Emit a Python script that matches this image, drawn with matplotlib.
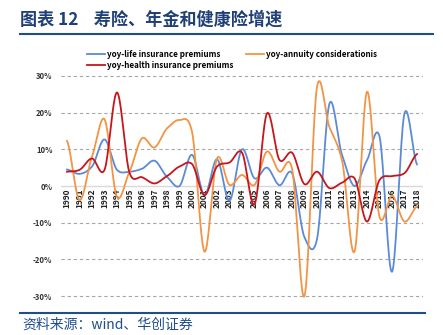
import numpy as np
import matplotlib
matplotlib.use("Agg")
import matplotlib.pyplot as plt
from matplotlib.lines import Line2D

plt.rcParams['font.family'] = ['Noto Sans CJK SC', 'DejaVu Sans']

years = list(range(1990, 2019))
life = [4.5, 3.3, 5.3, 12.7, 4.4, 3.9, 4.7, 6.9, 2.5, 0.0,
        8.5, -2.5, 7.3, -4.0, 10.0, 2.1, 5.0, 0.2, 3.5, -14.0,
        -14.5, 22.5, 8.5, 0.0, 7.0, 13.5, -23.4, 19.8, 5.9]
annuity = [12.3, -3.8, 8.0, 18.2, -3.0, 3.9, 13.0, 10.5, 15.7, 18.0,
           14.8, -17.9, 7.5, 0.3, 3.0, 0.3, 9.4, 3.9, 4.8, -30.0,
           27.0, 16.0, 7.0, -17.9, 25.7, -8.4, -2.6, -9.7, -5.6]
health = [3.9, 4.4, 7.5, 4.4, 25.5, 3.6, 2.4, 0.7, 2.7, 5.3,
          6.0, -2.5, 5.3, 6.4, 9.1, -5.0, 19.8, 7.1, 9.1, 0.5,
          3.9, -0.6, 0.9, 2.1, -9.7, 1.6, 2.7, 3.5, 8.7]

names = ['yoy-life insurance premiums', 'yoy-annuity considerationis',
         'yoy-health insurance premiums']
colors = ['#5B8BD6', '#F39445', '#C4161C']


def smooth(y, n=20, k=0.42):
    # cardinal spline through the points, close to excel's smoothed line
    y = np.asarray(y, float)
    p = np.concatenate([[y[0]], y, [y[-1]]])
    m = k * (p[2:] - p[:-2])
    xs, ys = [], []
    t = np.linspace(0, 1, n, endpoint=False)
    h00 = 2 * t ** 3 - 3 * t ** 2 + 1
    h10 = t ** 3 - 2 * t ** 2 + t
    h01 = -2 * t ** 3 + 3 * t ** 2
    h11 = t ** 3 - t ** 2
    for i in range(len(y) - 1):
        xs.append(i + t)
        ys.append(h00 * y[i] + h10 * m[i] + h01 * y[i + 1] + h11 * m[i + 1])
    xs.append([len(y) - 1])
    ys.append([y[-1]])
    return np.concatenate(xs), np.concatenate(ys)


W, H = 443, 335
fig = plt.figure(figsize=(W / 100, H / 100), dpi=100)

ax = fig.add_axes([60.75 / W, 1 - 297.5 / H, 362.5 / W, 223 / H])
# spine position first: moving it resets the tick labels
ax.spines['bottom'].set_position(('data', 0))
for s in ['top', 'right', 'left', 'bottom']:
    ax.spines[s].set_visible(False)

lines = []
for vals, c in zip([life, annuity, health], colors):
    sx, sy = smooth(vals)
    ln, = ax.plot(sx, sy, color=c, lw=1.3)
    lines.append(ln)

ax.set_xlim(-0.5, len(years) - 0.5)
ax.set_ylim(-30.4, 30.4)
yt = [-30, -20, -10, 0, 10, 20, 30]
ax.set_yticks(yt)
ax.set_yticklabels([f'{v}%' for v in yt], fontsize=5.5, fontweight='bold',
                   color='#333333')
for v in [-30, -20, -10, 10, 20, 30]:
    ax.axhline(v, color='#A6A6A6', lw=0.8, ls=(0, (3, 2.5)), zorder=0)
ax.axhline(0, color='#D9D9D9', lw=1.0, zorder=0)

ax.set_xticks(range(len(years)))
ax.set_xticklabels([str(y) for y in years], rotation=90, fontsize=6,
                   fontweight='bold', color='#222222')
ax.tick_params(axis='x', length=0, pad=2)
ax.tick_params(axis='y', length=0, pad=6)
ax.patch.set_alpha(0)

# legend: row 1 life + annuity, row 2 health
order = [0, 2, 1]
fig.legend([lines[i] for i in order], [names[i] for i in order],
           loc='upper left', bbox_to_anchor=(80 / W, 1 - 43 / H),
           ncol=2, frameon=False, handlelength=2.2,
           handletextpad=0.3, columnspacing=1.5, labelspacing=0.2,
           prop={'weight': 'bold', 'size': 5.8})

# title and footer
fig.text(20 / W, 1 - 20 / H, '图表 12    寿险、年金和健康险增速', fontsize=12.3,
         fontweight='bold', color='#1F3F77', va='center')
fig.add_artist(Line2D([20 / W, 433 / W], [1 - 34 / H, 1 - 34 / H],
                      color='#1F4E8C', lw=1.5))
fig.add_artist(Line2D([20 / W, 425 / W], [1 - 313 / H, 1 - 313 / H],
                      color='#1F4E8C', lw=1.5))
fig.text(22 / W, 1 - 325 / H, '资料来源：wind、华创证券', fontsize=10,
         color='#1F4E8C', va='center', style='italic')

fig.savefig('out.png', dpi=100)
